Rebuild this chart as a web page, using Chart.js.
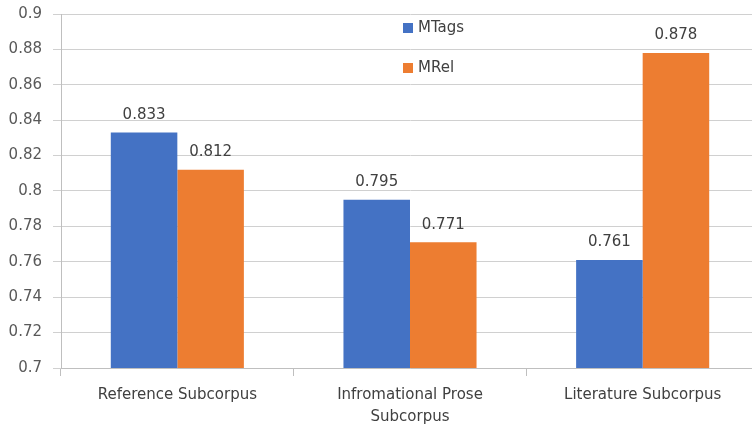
<!DOCTYPE html>
<html>
<head>
<meta charset="utf-8">
<script src="https://cdn.jsdelivr.net/npm/chart.js@4/dist/chart.umd.min.js"></script>
<style>
  html, body { margin: 0; padding: 0; background: #fff; overflow: hidden; }
  #wrap { width: 759px; height: 431px; margin-top: -6px; }
</style>
</head>
<body>
<div id="wrap"><canvas id="barChart"></canvas></div>
<script>
const categories = [
    'Reference Subcorpus',
    ['Infromational Prose', 'Subcorpus'],
    'Literature Subcorpus',
];
const mtags = [0.833, 0.795, 0.761];
const mrel = [0.812, 0.771, 0.878];
const seriesNames = ['MTags', 'MRel'];
const seriesColors = ['#4472C4', '#ED7D31'];

const fontFamily = '"DejaVu Sans", sans-serif';

// value labels above each bar
const valueLabels = {
    id: 'valueLabels',
    afterDatasetsDraw(chart) {
        const c = chart.ctx;
        c.save();
        c.font = '15px ' + fontFamily;
        c.fillStyle = '#404040';
        c.textAlign = 'center';
        c.textBaseline = 'bottom';
        chart.data.datasets.forEach((ds, i) => {
            chart.getDatasetMeta(i).data.forEach((bar, j) => {
                c.fillText(ds.data[j].toFixed(3), bar.x, bar.y - 10);
            });
        });
        c.restore();
    }
};

// legend stacked inside the plot area (canvas is shifted up 6px)
const innerLegend = {
    id: 'innerLegend',
    afterDraw(chart) {
        const c = chart.ctx;
        c.save();
        c.font = '15px ' + fontFamily;
        c.textBaseline = 'middle';
        c.textAlign = 'left';
        const x = 403;
        const ys = [34, 74];
        seriesNames.forEach((name, i) => {
            c.fillStyle = seriesColors[i];
            c.fillRect(x, ys[i] - 5, 10, 10);
            c.fillStyle = '#404040';
            c.fillText(name, x + 15, ys[i]);
        });
        c.restore();
    }
};

new Chart(document.getElementById('barChart'), {
    type: 'bar',
    data: {
        labels: categories,
        datasets: [
            { label: seriesNames[0], data: mtags, backgroundColor: seriesColors[0] },
            { label: seriesNames[1], data: mrel, backgroundColor: seriesColors[1] },
        ],
    },
    options: {
        responsive: true,
        maintainAspectRatio: false,
        animation: false,
        datasets: {
            bar: { categoryPercentage: 0.572, barPercentage: 1.0, borderWidth: 0 }
        },
        layout: { padding: 0 },
        plugins: {
            legend: { display: false },
            tooltip: { enabled: false }
        },
        scales: {
            x: {
                grid: {
                    display: true,
                    drawOnChartArea: false,
                    drawTicks: true,
                    tickLength: 8,
                    offset: true,
                    color: '#bfbfbf'
                },
                border: { color: '#bfbfbf' },
                ticks: {
                    color: '#404040',
                    font: { family: fontFamily, size: 15, lineHeight: 1.45 },
                    padding: 8,
                    maxRotation: 0
                },
                afterFit(scale) { scale.height = 57; }
            },
            y: {
                min: 0.7,
                max: 0.9,
                ticks: {
                    stepSize: 0.02,
                    color: '#595959',
                    font: { family: fontFamily, size: 15 },
                    padding: 11,
                    callback: v => parseFloat(v.toFixed(2)).toString()
                },
                grid: { color: '#d0d0d0', tickLength: 8 },
                border: { color: '#bfbfbf' },
                afterFit(scale) { scale.width = 61; }
            }
        }
    },
    plugins: [valueLabels, innerLegend]
});
</script>
</body>
</html>
